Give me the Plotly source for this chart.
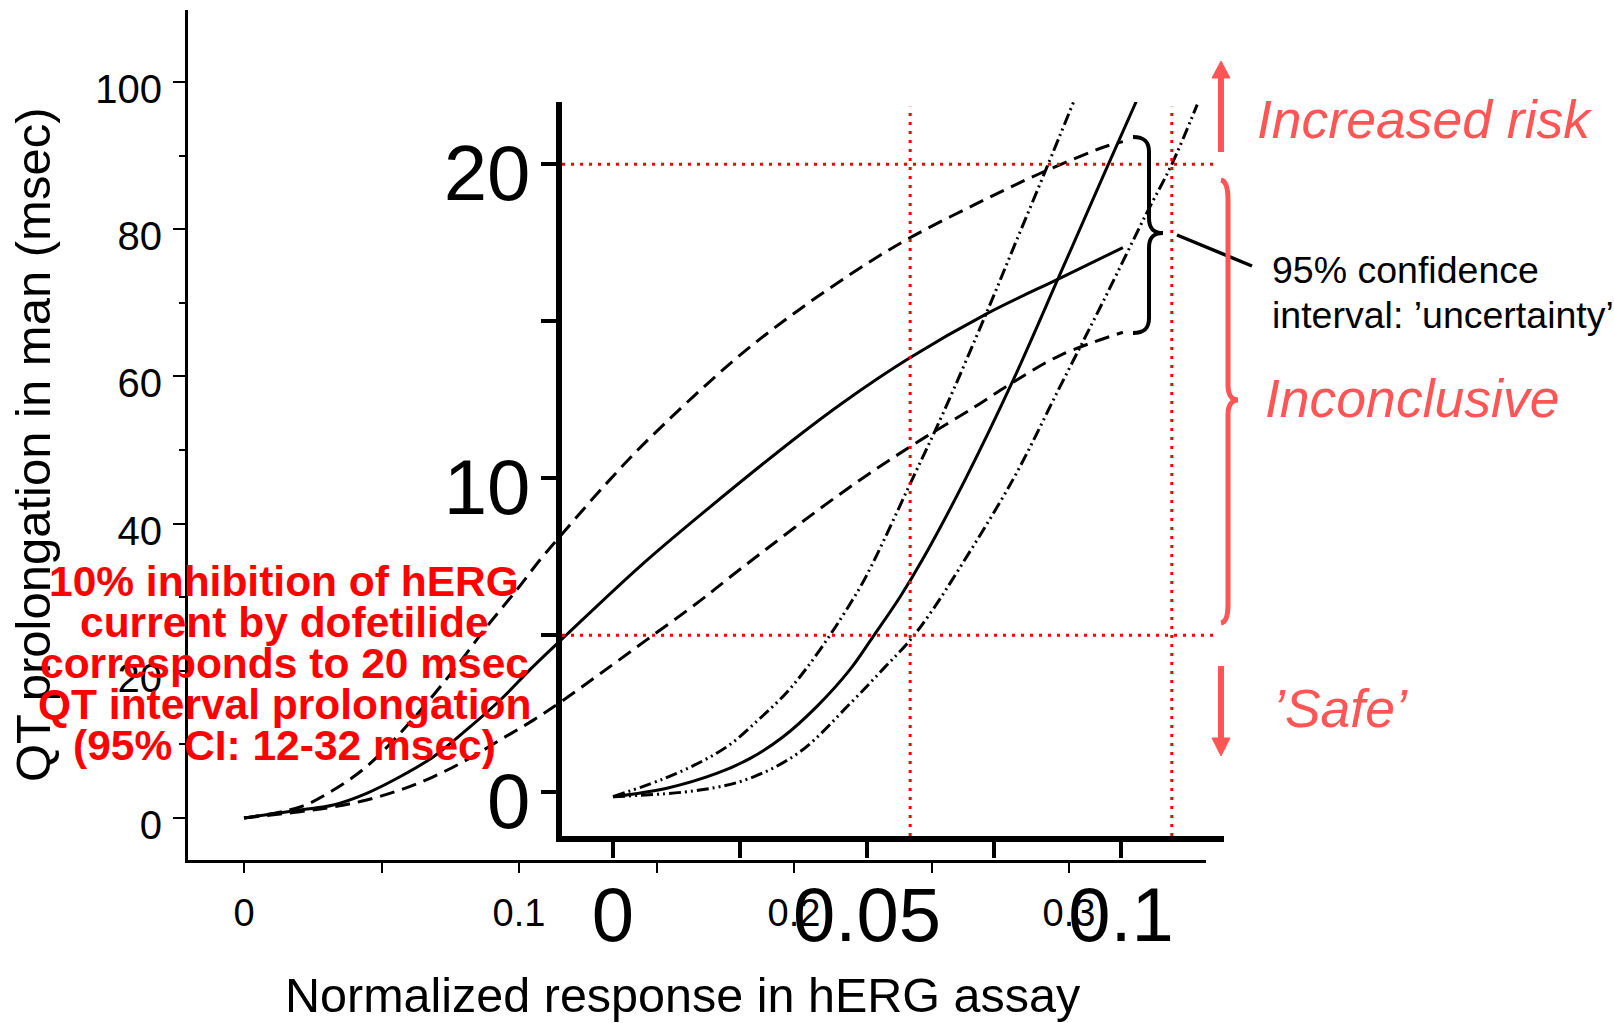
import plotly.graph_objects as go

W, H = 1614, 1023
FONT = "Liberation Sans, Arial, sans-serif"
RED = "#FF0000"
SALMON = "#FF5555"

# ---------------- data ----------------
# Outer panel (full scale): normalized hERG response vs QT prolongation (msec)
outer_upper_x = [0, 0.0204, 0.0325, 0.0446, 0.0567, 0.0664, 0.0773, 0.0883, 0.0992, 0.1076, 0.1159,
                 0.1319, 0.1464, 0.1785, 0.202, 0.226, 0.242, 0.2655, 0.289, 0.313, 0.3196]
outer_upper_y = [0, 1.5, 3.8, 7.0, 11.5, 15.6, 20.6, 26.0, 31.0, 35.05, 38.7,
                 45.5, 51.2, 62.3, 69.1, 75.2, 78.8, 83.3, 87.5, 91.2, 91.9]
outer_mid_x = [0, 0.0204, 0.0325, 0.0446, 0.0567, 0.0688, 0.081, 0.0931, 0.1052, 0.1173, 0.144,
               0.1683, 0.1998, 0.218, 0.242, 0.270, 0.297, 0.3196]
outer_mid_y = [0, 1.1, 1.77, 3.35, 5.6, 8.3, 12.0, 16.0, 20.6, 24.9, 34.2,
               41.9, 51.4, 56.5, 62.5, 68.5, 73.4, 77.5]
outer_lower_x = [0, 0.0204, 0.0325, 0.0446, 0.0567, 0.0688, 0.081, 0.0931, 0.1052, 0.1161, 0.1295,
                 0.1464, 0.1658, 0.1804, 0.2167, 0.242, 0.2655, 0.2796, 0.297, 0.3196]
outer_lower_y = [0, 0.86, 1.5, 2.45, 3.8, 5.6, 7.9, 10.6, 13.3, 16.0, 19.6,
                 24.2, 29.5, 33.8, 44.0, 50.4, 55.8, 59.2, 62.9, 66.0]

# Inner panel (zoomed scale)
inner_mid_x = [0, 0.0106, 0.0204, 0.027, 0.0335, 0.0401, 0.0466, 0.0512, 0.0565, 0.0611, 0.0693,
               0.0787, 0.088, 0.0967, 0.103]
inner_mid_y = [-0.14, 0.13, 0.6, 1.08, 1.77, 2.73, 3.9, 4.96, 6.22, 7.46, 9.95,
               13.1, 16.5, 19.7, 22.0]
inner_upper_x = [0, 0.0125, 0.0224, 0.0289, 0.0342, 0.0381, 0.0427, 0.0459, 0.0498, 0.059, 0.065,
                 0.0736, 0.0795, 0.0854, 0.0907]
inner_upper_y = [-0.14, 0.6, 1.45, 2.35, 3.18, 3.95, 5.0, 5.8, 6.87, 10.0, 12.08,
                 15.3, 17.6, 19.9, 22.0]
inner_lower_x = [0, 0.0171, 0.027, 0.0368, 0.0467, 0.0532, 0.0585, 0.0624, 0.0667, 0.0787, 0.088,
                 0.0967, 0.105, 0.110, 0.115]
inner_lower_y = [-0.14, 0.07, 0.45, 1.29, 2.83, 3.93, 4.85, 5.69, 6.75, 9.95, 12.92,
                 15.7, 18.43, 20.0, 21.9]

# Reference (threshold) lines on the inner panel
ref_y = [5, 20]
ref_x = [0.0585, 0.110]

# Ticks
outer_xticks = [0, 0.05, 0.1, 0.15, 0.2, 0.25, 0.3]
outer_xticktext = ["0", "", "0.1", "", "0.2", "", "0.3"]
outer_yticks = [0, 20, 40, 60, 80, 100]
inner_xticks = [0, 0.025, 0.05, 0.075, 0.1]
inner_xticktext = ["0", "", "0.05", "", "0.1"]
inner_yticks = [0, 5, 10, 15, 20]
inner_yticktext = ["0", "", "10", "", "20"]

note_lines = ["10% inhibition of hERG", "current by dofetilide", "corresponds to 20 msec",
              "QT interval prolongation", "(95% CI: 12-32 msec)"]
ci_lines = ["95% confidence", "interval: \u2019uncertainty\u2019"]

# ---------------- geometry helpers (pixels -> paper) ----------------
def X(px):
    return px / W

def Y(py):
    return 1 - py / H

# outer axes: x pixel = 244 + 2750*x ; y pixel = 818 - 7.36*y
o_xr = [(188 - 244) / 2750, (1206 - 244) / 2750]
o_yr = [(818 - 860) / 7.36, (818 - 10) / 7.36]
# inner axes: x pixel = 613 + 5080*x ; y pixel = 792.3 - 31.4*y
i_xr = [(562 - 613) / 5080, (1224 - 613) / 5080]
i_yr = [(792.3 - 836) / 31.4, (792.3 - 102) / 31.4]

fig = go.Figure()

dash_long = "15px,8px"
dash_dd = "12px,4px,2px,4px,2px,4px"
SM = 1.0

fig.add_trace(go.Scatter(x=outer_upper_x, y=outer_upper_y, mode="lines", xaxis="x", yaxis="y",
                         line=dict(color="black", width=3, dash=dash_long, shape="spline", smoothing=SM)))
fig.add_trace(go.Scatter(x=outer_mid_x, y=outer_mid_y, mode="lines", xaxis="x", yaxis="y",
                         line=dict(color="black", width=3, shape="spline", smoothing=SM)))
fig.add_trace(go.Scatter(x=outer_lower_x, y=outer_lower_y, mode="lines", xaxis="x", yaxis="y",
                         line=dict(color="black", width=3, dash=dash_long, shape="spline", smoothing=SM)))

fig.add_trace(go.Scatter(x=inner_upper_x, y=inner_upper_y, mode="lines", xaxis="x2", yaxis="y2",
                         line=dict(color="black", width=3, dash=dash_dd, shape="spline", smoothing=SM)))
fig.add_trace(go.Scatter(x=inner_mid_x, y=inner_mid_y, mode="lines", xaxis="x2", yaxis="y2",
                         line=dict(color="black", width=3, shape="spline", smoothing=SM)))
fig.add_trace(go.Scatter(x=inner_lower_x, y=inner_lower_y, mode="lines", xaxis="x2", yaxis="y2",
                         line=dict(color="black", width=3, dash=dash_dd, shape="spline", smoothing=SM)))

shapes = []
dot = "3px,6px"
for yv in ref_y:
    shapes.append(dict(type="line", xref="x2", yref="y2", x0=i_xr[0], x1=(1219 - 613) / 5080,
                       y0=yv, y1=yv, line=dict(color=RED, width=3, dash=dot), layer="above"))
for xv in ref_x:
    shapes.append(dict(type="line", xref="x2", yref="y2", x0=xv, x1=xv,
                       y0=i_yr[0], y1=21.83, line=dict(color=RED, width=3, dash=dot), layer="above"))

def P(px, py):
    return f"{X(px):.5f},{Y(py):.5f}"

# black curly brace
bb = ("M " + P(1133, 137) + " C " + P(1145, 137) + " " + P(1149, 142) + " " + P(1149, 152) +
      " L " + P(1149, 218) + " C " + P(1149, 228) + " " + P(1153, 233) + " " + P(1163, 233) +
      " C " + P(1153, 233) + " " + P(1149, 238) + " " + P(1149, 248) +
      " L " + P(1149, 318) + " C " + P(1149, 328) + " " + P(1145, 333) + " " + P(1133, 333))
shapes.append(dict(type="path", xref="paper", yref="paper", path=bb,
                   line=dict(color="black", width=4), layer="above"))
# leader line
shapes.append(dict(type="line", xref="paper", yref="paper", x0=X(1177), y0=Y(235), x1=X(1252), y1=Y(266),
                   line=dict(color="black", width=3.5), layer="above"))

# red curly brace
rb = ("M " + P(1221, 180) + " C " + P(1226, 181) + " " + P(1228, 188) + " " + P(1228, 200) +
      " L " + P(1228, 385) + " C " + P(1228, 395) + " " + P(1232, 400) + " " + P(1238, 400) +
      " C " + P(1232, 400) + " " + P(1228, 405) + " " + P(1228, 415) +
      " L " + P(1228, 605) + " C " + P(1228, 616) + " " + P(1226, 622) + " " + P(1221, 623))
shapes.append(dict(type="path", xref="paper", yref="paper", path=rb,
                   line=dict(color=SALMON, width=5), layer="above"))
# red arrows
shapes.append(dict(type="line", xref="paper", yref="paper", x0=X(1221), y0=Y(152), x1=X(1221), y1=Y(76),
                   line=dict(color=SALMON, width=6), layer="above"))
shapes.append(dict(type="path", xref="paper", yref="paper",
                   path="M " + P(1212, 78) + " L " + P(1230, 78) + " L " + P(1221, 61) + " Z",
                   fillcolor=SALMON, line=dict(color=SALMON, width=1), layer="above"))
shapes.append(dict(type="line", xref="paper", yref="paper", x0=X(1221), y0=Y(666), x1=X(1221), y1=Y(740),
                   line=dict(color=SALMON, width=6), layer="above"))
shapes.append(dict(type="path", xref="paper", yref="paper",
                   path="M " + P(1212, 738) + " L " + P(1230, 738) + " L " + P(1221, 756) + " Z",
                   fillcolor=SALMON, line=dict(color=SALMON, width=1), layer="above"))

annotations = []
def ann(text, px, py, size, color="black", xanchor="center", bold=False, italic=False, angle=0):
    t = text
    if bold:
        t = "<b>" + t + "</b>"
    if italic:
        t = "<i>" + t + "</i>"
    annotations.append(dict(text=t, x=X(px), y=Y(py), xref="paper", yref="paper", showarrow=False,
                            xanchor=xanchor, yanchor="middle", textangle=angle,
                            font=dict(family=FONT, size=size, color=color)))

ann("Normalized response in hERG assay", 683, 995, 48.5)
ann("QT prolongation in man (msec)", 33, 445, 49, angle=-90)
for line, yy in zip(note_lines, [581, 622, 663, 704, 745]):
    ann(line, 284, yy, 42.5, color=RED, bold=True)
for line, yy in zip(ci_lines, [270, 315]):
    ann(line, 1270, yy, 37.5, xanchor="left")
ann("Increased risk", 1255, 119, 53.5, color=SALMON, xanchor="left", italic=True)
ann("Inconclusive", 1263, 398, 53.5, color=SALMON, xanchor="left", italic=True)
ann("\u2019Safe\u2019", 1271, 708, 53.5, color=SALMON, xanchor="left", italic=True)

fig.update_layout(
    width=W, height=H, autosize=False, margin=dict(l=0, r=0, t=0, b=0, pad=0),
    paper_bgcolor="white", plot_bgcolor="rgba(0,0,0,0)", showlegend=False,
    font=dict(family=FONT, color="black"),
    xaxis=dict(domain=[X(188), X(1206)], range=o_xr, anchor="y", showline=True, linewidth=3,
               linecolor="black", ticks="outside", ticklen=10, tickwidth=2, tickcolor="black",
               tickvals=outer_xticks, ticktext=outer_xticktext, tickfont=dict(size=38),
               showgrid=False, zeroline=False, ticklabelstandoff=7, automargin=False),
    yaxis=dict(domain=[Y(860), Y(10)], range=o_yr, anchor="x", showline=True, linewidth=3,
               linecolor="black", ticks="outside", ticklen=12, tickwidth=2, tickcolor="black",
               tickvals=outer_yticks, tickfont=dict(size=40), showgrid=False, zeroline=False,
               minor=dict(dtick=10, tick0=0, ticks="outside", ticklen=6, tickwidth=2, tickcolor="black"),
               ticklabelstandoff=3, ticklabelshift=7, automargin=False),
    xaxis2=dict(domain=[X(562), X(1224)], range=i_xr, anchor="y2", showline=True, linewidth=6,
                linecolor="black", ticks="outside", ticklen=16, tickwidth=4, tickcolor="black",
                tickvals=inner_xticks, ticktext=inner_xticktext, tickfont=dict(size=76),
                showgrid=False, zeroline=False, ticklabelstandoff=-8, automargin=False),
    yaxis2=dict(domain=[Y(836), Y(102)], range=i_yr, anchor="x2", showline=True, linewidth=6,
                linecolor="black", ticks="outside", ticklen=15, tickwidth=4, tickcolor="black",
                tickvals=inner_yticks, ticktext=inner_yticktext, tickfont=dict(size=78),
                showgrid=False, zeroline=False, ticklabelstandoff=-5, ticklabelshift=8, automargin=False),
    shapes=shapes, annotations=annotations,
)

fig.write_html("out.html", include_plotlyjs=True, full_html=True,
               config={"displayModeBar": False, "responsive": False},
               post_script="document.body.style.margin='0px';document.body.style.overflow='hidden';")
